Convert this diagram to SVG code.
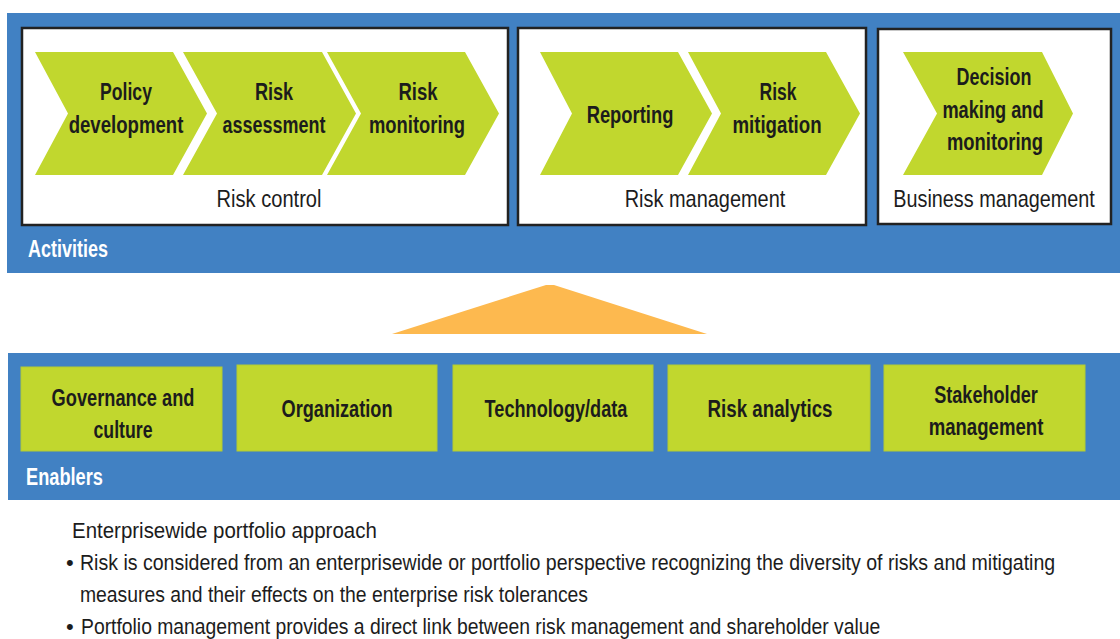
<svg xmlns="http://www.w3.org/2000/svg" width="1120" height="639" viewBox="0 0 1120 639">
<defs>
<style>
.band{fill:#4181C3}
.box{fill:#ffffff;stroke:#222222;stroke-width:2.5}
.chev{fill:#C1D72E}
.ebox{fill:#C1D72E;stroke:#B3CB33;stroke-width:1}
.t{font-family:"Liberation Sans Narrow","Liberation Sans",Arial,sans-serif;font-size:24px;font-weight:700;fill:#1c1c1c;text-anchor:middle}
.lbl{font-family:"Liberation Sans Narrow","Liberation Sans",Arial,sans-serif;font-size:24px;font-weight:400;fill:#1c1c1c;text-anchor:middle}
.band-lbl{font-family:"Liberation Sans Narrow","Liberation Sans",Arial,sans-serif;font-size:24px;font-weight:700;fill:#ffffff}
.p{font-family:"Liberation Sans Narrow","Liberation Sans",Arial,sans-serif;font-size:22px;font-weight:400;fill:#1c1c1c}
</style>
</defs>
<rect width="1120" height="639" fill="#ffffff"/>

<g id="activities">
<rect class="band" x="7" y="13" width="1113" height="260"/>
<text class="band-lbl" transform="translate(28 257) scale(0.85 1)" x="0" y="0" textLength="94" lengthAdjust="spacingAndGlyphs">Activities</text>
</g>

<g id="risk-control">
<rect class="box" x="22" y="28" width="486" height="197"/>
<text class="lbl" transform="translate(269 207) scale(0.85 1)" x="0" y="0" textLength="123.5" lengthAdjust="spacingAndGlyphs">Risk control</text>
</g>
<g id="policy-development">
<polygon class="chev" points="35,52 173,52 207,113.5 173,175 35,175 68,113.5"/>
<text class="t" transform="translate(126 100) scale(0.85 1)" x="0" y="0" textLength="61" lengthAdjust="spacingAndGlyphs">Policy</text>
<text class="t" transform="translate(126 133) scale(0.85 1)" x="0" y="0" textLength="135" lengthAdjust="spacingAndGlyphs">development</text>
</g>
<g id="risk-assessment">
<polygon class="chev" points="183,52 322,52 356,113.5 322,175 183,175 217,113.5"/>
<text class="t" transform="translate(274 100) scale(0.85 1)" x="0" y="0" textLength="45" lengthAdjust="spacingAndGlyphs">Risk</text>
<text class="t" transform="translate(274 133) scale(0.85 1)" x="0" y="0" textLength="121" lengthAdjust="spacingAndGlyphs">assessment</text>
</g>
<g id="risk-monitoring">
<polygon class="chev" points="327,52 465,52 499,113.5 465,175 327,175 361,113.5"/>
<text class="t" transform="translate(418 100) scale(0.85 1)" x="0" y="0" textLength="46" lengthAdjust="spacingAndGlyphs">Risk</text>
<text class="t" transform="translate(417 133) scale(0.85 1)" x="0" y="0" textLength="113" lengthAdjust="spacingAndGlyphs">monitoring</text>
</g>

<g id="risk-management">
<rect class="box" x="518" y="28" width="348" height="197"/>
<text class="lbl" transform="translate(705 207) scale(0.85 1)" x="0" y="0" textLength="189" lengthAdjust="spacingAndGlyphs">Risk management</text>
</g>
<g id="reporting">
<polygon class="chev" points="540,52 678,52 712,113.5 678,175 540,175 572,113.5"/>
<text class="t" transform="translate(630 123) scale(0.85 1)" x="0" y="0" textLength="102" lengthAdjust="spacingAndGlyphs">Reporting</text>
</g>
<g id="risk-mitigation">
<polygon class="chev" points="688,52 826,52 860,113.5 826,175 688,175 721,113.5"/>
<text class="t" transform="translate(778 100) scale(0.85 1)" x="0" y="0" textLength="43.5" lengthAdjust="spacingAndGlyphs">Risk</text>
<text class="t" transform="translate(777 133) scale(0.85 1)" x="0" y="0" textLength="105" lengthAdjust="spacingAndGlyphs">mitigation</text>
</g>

<g id="business-management">
<rect class="box" x="878" y="29" width="233" height="195"/>
<text class="lbl" transform="translate(994 207) scale(0.85 1)" x="0" y="0" textLength="237" lengthAdjust="spacingAndGlyphs">Business management</text>
</g>
<g id="decision-making">
<polygon class="chev" points="903,52 1042,52 1073,113.5 1042,175 903,175 937,113.5"/>
<text class="t" transform="translate(994 85) scale(0.85 1)" x="0" y="0" textLength="88" lengthAdjust="spacingAndGlyphs">Decision</text>
<text class="t" transform="translate(993 118) scale(0.85 1)" x="0" y="0" textLength="119" lengthAdjust="spacingAndGlyphs">making and</text>
<text class="t" transform="translate(995 150) scale(0.85 1)" x="0" y="0" textLength="113" lengthAdjust="spacingAndGlyphs">monitoring</text>
</g>

<g id="connectors">
<polygon points="392,334 546,285 554,285 707,334" fill="#FDB94F"/>
</g>

<g id="enablers">
<rect class="band" x="8" y="353" width="1112" height="147"/>
<text class="band-lbl" transform="translate(26 485) scale(0.85 1)" x="0" y="0" textLength="90.5" lengthAdjust="spacingAndGlyphs">Enablers</text>
</g>
<g id="governance">
<rect class="ebox" x="21" y="367" width="201" height="84"/>
<text class="t" transform="translate(123 406) scale(0.85 1)" x="0" y="0" textLength="168" lengthAdjust="spacingAndGlyphs">Governance and</text>
<text class="t" transform="translate(123 438) scale(0.85 1)" x="0" y="0" textLength="69.5" lengthAdjust="spacingAndGlyphs">culture</text>
</g>
<g id="organization">
<rect class="ebox" x="237" y="365" width="200" height="86"/>
<text class="t" transform="translate(337 417) scale(0.85 1)" x="0" y="0" textLength="130.5" lengthAdjust="spacingAndGlyphs">Organization</text>
</g>
<g id="technology">
<rect class="ebox" x="453" y="365" width="200" height="86"/>
<text class="t" transform="translate(556 417) scale(0.85 1)" x="0" y="0" textLength="168" lengthAdjust="spacingAndGlyphs">Technology/data</text>
</g>
<g id="risk-analytics">
<rect class="ebox" x="668" y="365" width="202" height="86"/>
<text class="t" transform="translate(770 417) scale(0.85 1)" x="0" y="0" textLength="147" lengthAdjust="spacingAndGlyphs">Risk analytics</text>
</g>
<g id="stakeholder">
<rect class="ebox" x="884" y="365" width="201" height="86"/>
<text class="t" transform="translate(986 403) scale(0.85 1)" x="0" y="0" textLength="122" lengthAdjust="spacingAndGlyphs">Stakeholder</text>
<text class="t" transform="translate(986 435) scale(0.85 1)" x="0" y="0" textLength="135" lengthAdjust="spacingAndGlyphs">management</text>
</g>

<g id="approach">
<text class="p" transform="translate(72 538) scale(0.8 1)" x="0" y="0" textLength="381" lengthAdjust="spacingAndGlyphs">Enterprisewide portfolio approach</text>
<text class="p" x="66" y="570">•</text>
<text class="p" transform="translate(80 570) scale(0.8 1)" x="0" y="0" textLength="1219" lengthAdjust="spacingAndGlyphs">Risk is considered from an enterprisewide or portfolio perspective recognizing the diversity of risks and mitigating</text>
<text class="p" transform="translate(80 602) scale(0.8 1)" x="0" y="0" textLength="635" lengthAdjust="spacingAndGlyphs">measures and their effects on the enterprise risk tolerances</text>
<text class="p" x="66" y="634">•</text>
<text class="p" transform="translate(81 634) scale(0.8 1)" x="0" y="0" textLength="999" lengthAdjust="spacingAndGlyphs">Portfolio management provides a direct link between risk management and shareholder value</text>
</g>
</svg>
